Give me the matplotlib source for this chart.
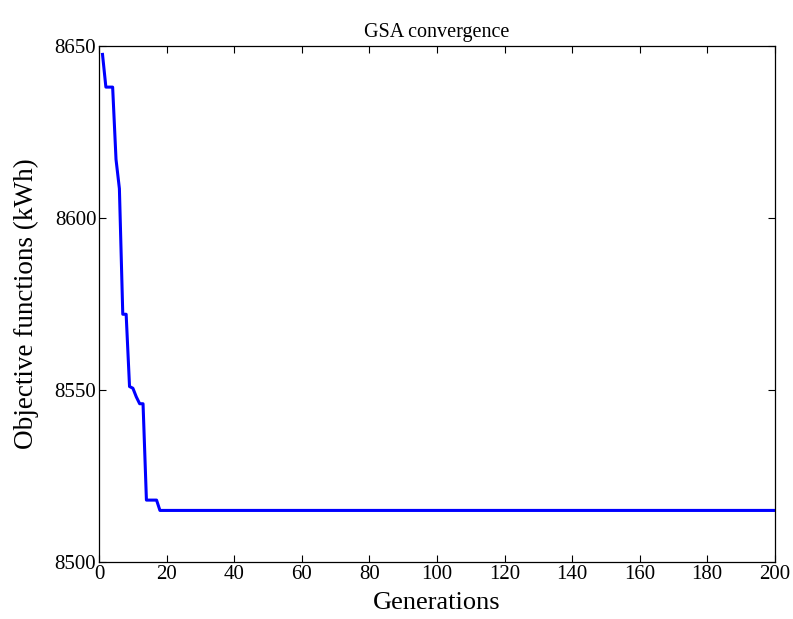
import matplotlib
matplotlib.use("Agg")
import matplotlib.pyplot as plt
import numpy as np

# convergence curve (generation, objective kWh)
gen_start = [1, 2, 3, 4, 5, 6, 7, 8, 9, 10, 11, 12, 13, 14, 15, 16, 17]
obj_start = [8647.5, 8638, 8638, 8638, 8617, 8608.5, 8572, 8572, 8551, 8550.5,
             8548, 8546, 8546, 8518, 8518, 8518, 8518]
final_value = 8515
last_gen = 200

generations = gen_start + list(range(18, last_gen + 1))
objective = obj_start + [final_value] * (last_gen - 17)

plt.rcParams["font.family"] = ["Liberation Serif", "DejaVu Serif"]

fig = plt.figure(figsize=(7.93, 6.19), dpi=100)
ax = fig.add_axes([0.125, 0.092, 0.852, 0.834])
ax.plot(generations, objective, color="#0000ff", linewidth=2.2)

ax.set_xlim(0, 200)
ax.set_ylim(8500, 8650)
ax.set_xticks(np.arange(0, 201, 20))
ax.set_yticks([8500, 8550, 8600, 8650])
ax.tick_params(direction="in", top=True, right=True, length=5, width=0.8,
               labelsize=15, pad=2)
for s in ax.spines.values():
    s.set_linewidth(0.9)

ax.set_xlabel("Generations", fontsize=19, labelpad=6)
ax.set_ylabel("Objective functions (kWh)", fontsize=19.5, labelpad=11)
ax.set_title("GSA convergence", fontsize=14.5, pad=6)

plt.savefig("out.png", dpi=100)
